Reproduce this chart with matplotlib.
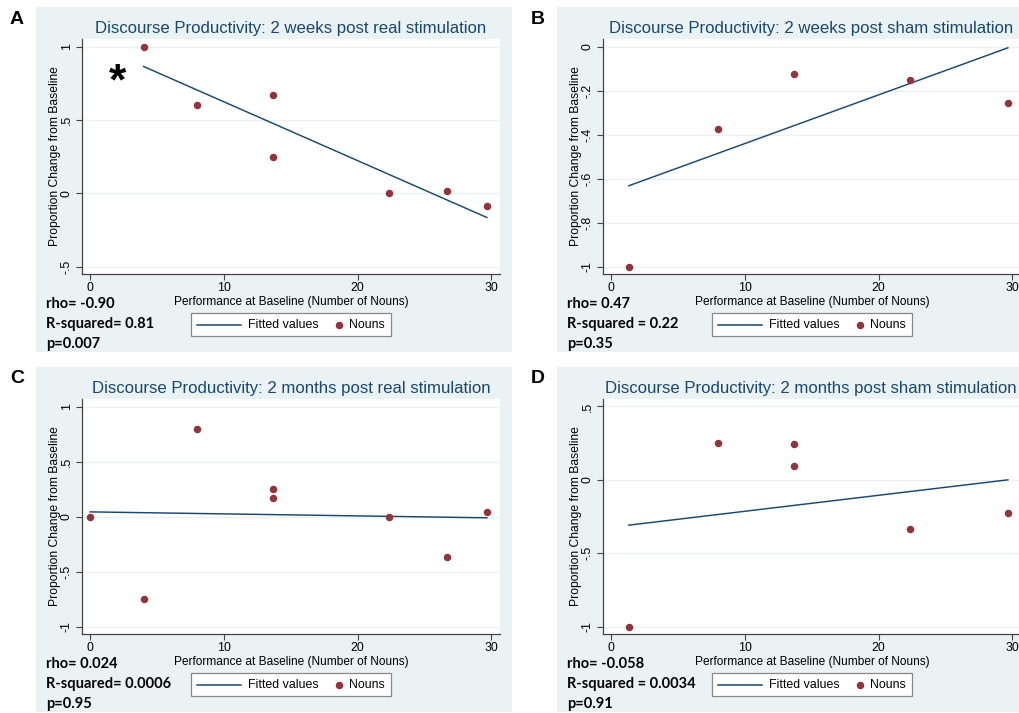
import matplotlib.pyplot as plt
from matplotlib.patches import Rectangle

plt.rcParams['font.family'] = ['Liberation Sans', 'DejaVu Sans']

W, H = 1019, 713

# ---- data ----
titles = ['Discourse Productivity: 2 weeks post real stimulation',
          'Discourse Productivity: 2 weeks post sham stimulation',
          'Discourse Productivity: 2 months post real stimulation',
          'Discourse Productivity: 2 months post sham stimulation']
letters = ['A', 'B', 'C', 'D']

nouns_a_x = [4, 8, 13.67, 13.67, 22.33, 26.67, 29.67]
nouns_a_y = [1.0, 0.6, 0.667, 0.25, 0.0, 0.0125, -0.09]
fit_a_x = [4, 29.67]
fit_a_y = [0.864, -0.166]

nouns_b_x = [1.33, 8, 13.67, 22.33, 29.67]
nouns_b_y = [-1.0, -0.375, -0.123, -0.15, -0.259]
fit_b_x = [1.33, 29.67]
fit_b_y = [-0.633, -0.006]

nouns_c_x = [0, 4, 8, 13.67, 13.67, 22.33, 26.67, 29.67]
nouns_c_y = [0.0, -0.75, 0.8, 0.25, 0.167, 0.0, -0.366, 0.045]
fit_c_x = [0, 29.67]
fit_c_y = [0.042, -0.012]

nouns_d_x = [1.33, 8, 13.67, 13.67, 22.33, 29.67]
nouns_d_y = [-1.0, 0.25, 0.241, 0.095, -0.332, -0.227]
fit_d_x = [1.33, 29.67]
fit_d_y = [-0.309, 0.0]

yticks_a = [-0.5, 0, 0.5, 1]
yticks_b = [-1, -0.8, -0.6, -0.4, -0.2, 0]
yticks_c = [-1, -0.5, 0, 0.5, 1]
yticks_d = [-1, -0.5, 0, 0.5]
xticks = [0, 10, 20, 30]

stats = [['rho= -0.90', 'R-squared= 0.81', 'p=0.007'],
         ['rho= 0.47', 'R-squared = 0.22', 'p=0.35'],
         ['rho= 0.024', 'R-squared= 0.0006', 'p=0.95'],
         ['rho= -0.058', 'R-squared = 0.0034', 'p=0.91']]

panels = [(nouns_a_x, nouns_a_y, fit_a_x, fit_a_y, yticks_a),
          (nouns_b_x, nouns_b_y, fit_b_x, fit_b_y, yticks_b),
          (nouns_c_x, nouns_c_y, fit_c_x, fit_c_y, yticks_c),
          (nouns_d_x, nouns_d_y, fit_d_x, fit_d_y, yticks_d)]

BG = '#eaf2f3'
NAVY = '#1a476f'
MAROON = '#90353b'
AXW, AXH = 418, 235   # plot region size in pixels


def tick_label(v):
    # Stata style: 0.5 -> .5, -0.5 -> -.5
    if v == int(v):
        return str(int(v))
    return ('%g' % v).replace('0.', '.')


def draw_legend(ax):
    # Stata-like legend box under the x axis title (pixel offsets from plot region)
    tr = ax.transAxes
    ax_x = lambda p: p / AXW
    ax_y = lambda p: -p / AXH
    ax.add_patch(Rectangle((ax_x(108.7), ax_y(62)), ax_x(200.3), 23 / AXH,
                           transform=tr, facecolor='white', edgecolor='#888888',
                           lw=0.9, clip_on=False, zorder=5))
    ax.plot([ax_x(115), ax_x(159)], [ax_y(50.5)] * 2, transform=tr, color=NAVY,
            lw=1.1, clip_on=False, zorder=6)
    ax.text(ax_x(166), ax_y(50.5), 'Fitted values', transform=tr, fontsize=8.9,
            ha='left', va='center', zorder=6)
    ax.plot([ax_x(257)], [ax_y(50.5)], 'o', transform=tr, color=MAROON, ms=4.4,
            clip_on=False, zorder=6)
    ax.text(ax_x(267), ax_y(50.5), 'Nouns', transform=tr, fontsize=8.9,
            ha='left', va='center', zorder=6)


fig = plt.figure(figsize=(W / 100, H / 100), dpi=100)

# panel offsets (left column / right column, top row / bottom row)
offsets = [(0, 0), (521, 0), (0, 360), (521, 360)]

for i, (ox, oy) in enumerate(offsets):
    nx, ny, fx, fy, yt = panels[i]

    # grey graph region
    fig.patches.append(Rectangle(((36 + ox) / W, 1 - (352 + oy) / H), 476 / W, 345 / H,
                                 transform=fig.transFigure, facecolor=BG,
                                 edgecolor='none', zorder=-5))

    left = 82 if i % 2 == 0 else 603
    bottom = 274 + oy
    ax = fig.add_axes([left / W, 1 - bottom / H, AXW / W, AXH / H])
    ax.set_zorder(2)
    ax.set_facecolor('white')

    lo, hi = min(yt), max(yt)
    pad = (hi - lo) * 7.5 / 220
    ax.set_ylim(lo - pad, hi + pad)
    ax.set_xlim(-0.6, 30.65)

    for v in yt:
        ax.axhline(v, color=BG, lw=1.0, zorder=0)

    ax.plot(fx, fy, color=NAVY, lw=1.05, zorder=2)
    ax.plot(nx, ny, 'o', color=MAROON, ms=4.4, zorder=3)

    ax.set_xticks(xticks)
    ax.set_yticks(yt)
    ax.set_yticklabels([tick_label(v) for v in yt], rotation=90, va='center')
    ax.tick_params(axis='both', labelsize=8.9, length=4, width=0.8,
                   color='#444444', pad=2)
    ax.tick_params(axis='y', pad=2.5)
    for s in ['top', 'right']:
        ax.spines[s].set_visible(False)
    for s in ['left', 'bottom']:
        ax.spines[s].set_color('#444444')
        ax.spines[s].set_linewidth(0.9)

    ax.set_xlabel('Performance at Baseline (Number of Nouns)', fontsize=8.6, labelpad=1)
    ax.set_ylabel('Proportion Change from Baseline', fontsize=8.7, labelpad=0)

    draw_legend(ax)

    # title
    cx = left + AXW / 2 if i % 2 == 0 else 811
    fig.text(cx / W, 1 - (33.5 + oy) / H, titles[i], ha='center', va='baseline',
             fontsize=12.1, color=NAVY)

    # panel letter
    lx = 17 if i % 2 == 0 else 538
    fig.text(lx / W, 1 - (19 + oy) / H, letters[i], ha='center', va='center',
             fontsize=14, fontweight='bold')

    # stats text
    sx = 46 if i % 2 == 0 else 567
    for k, line in enumerate(stats[i]):
        fig.text(sx / W, 1 - (304 + 20 * k + oy) / H, line, ha='left', va='center',
                 fontsize=10.5, fontweight='bold', family=['Lato', 'DejaVu Sans'])

# asterisk in panel A
fig.text(117 / W, 1 - 83 / H, '*', ha='center', va='center', fontsize=32,
         fontweight='bold')

fig.savefig('out.png', dpi=100)
